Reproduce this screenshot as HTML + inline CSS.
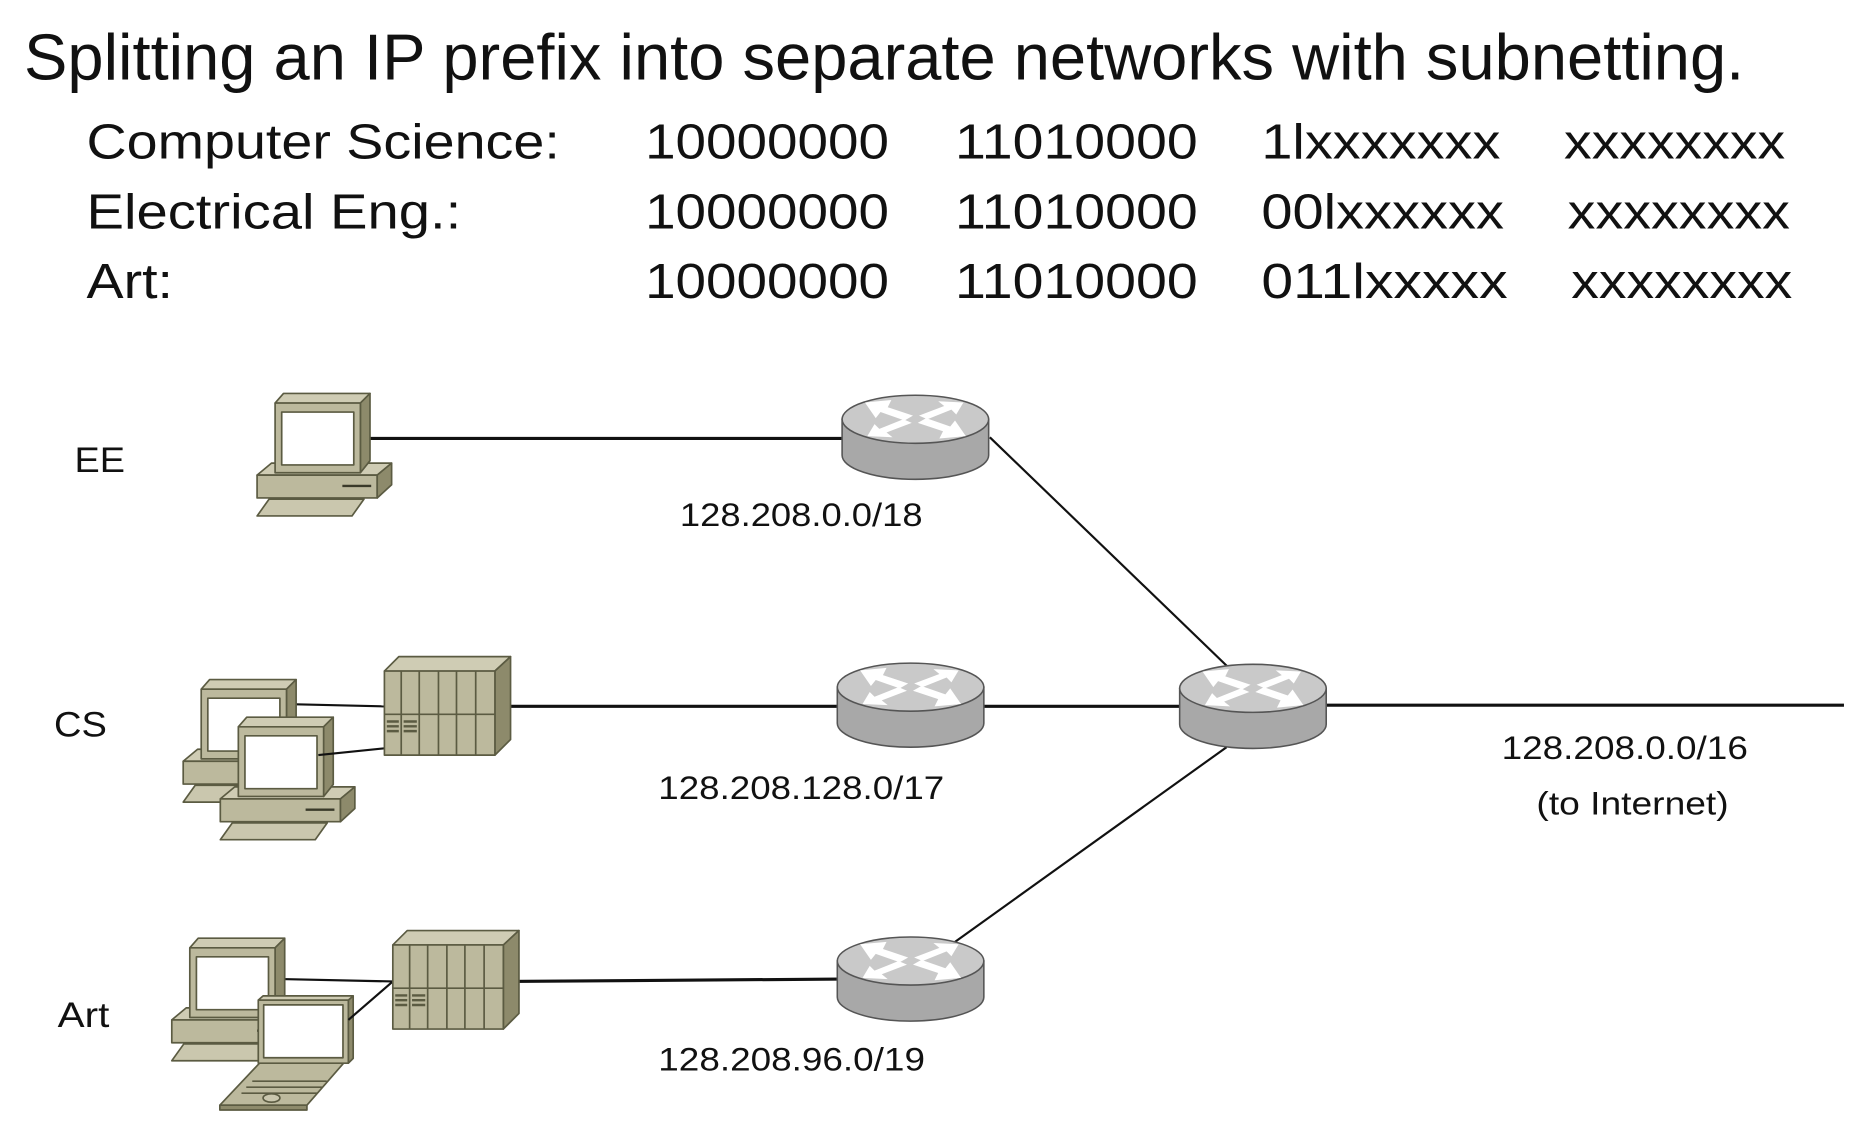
<!DOCTYPE html>
<html><head><meta charset="utf-8"><style>
html,body{margin:0;padding:0;background:#fff;}
svg{display:block;}
text{font-family:"Liberation Sans",Arial,sans-serif;fill:#111;}
</style></head><body>
<svg width="1874" height="1126" viewBox="0 0 1560 937.3" xmlns="http://www.w3.org/2000/svg">
<defs>
<symbol id="pc" overflow="visible">
 <g stroke="#5b5b42" stroke-width="1.4" stroke-linejoin="round">
  <polygon points="-15,60 -3,50 97,50 85,60" fill="#cfccb4"/>
  <rect x="-15" y="60" width="100" height="19" fill="#bcb99d"/>
  <polygon points="85,60 97,50 97,68 85,79" fill="#8d8a6b"/>
  <polygon points="-15,94 -5,80 74,80 64,94" fill="#cac7ae"/>
  <polygon points="0,0 7,-8 79,-8 71,0" fill="#cfccb4"/>
  <polygon points="71,0 79,-8 79,48 71,58" fill="#8d8a6b"/>
  <rect x="0" y="0" width="71" height="58" fill="#bcb99d"/>
  <rect x="5.5" y="7.5" width="60" height="44" fill="#fff"/>
 </g>
 <line x1="56" y1="69" x2="80" y2="69" stroke="#3a3a2a" stroke-width="2"/>
</symbol>
<symbol id="srv" overflow="visible">
 <g stroke="#5b5b42" stroke-width="1.4" stroke-linejoin="round">
  <polygon points="0,0 12,-12 105,-12 92,0" fill="#cfccb4"/>
  <polygon points="92,0 105,-12 105,57 92,70" fill="#8d8a6b"/>
  <rect x="0" y="0" width="92" height="70" fill="#bcb99d"/>
  <path d="M14,0V70M29,0V70M45,0V70M60,0V70M76,0V70M0,36H92" fill="none"/>
 </g>
 <path d="M2,42H12M2,46H12M2,50H12M16,42H27M16,46H27M16,50H27" stroke="#5b5b42" stroke-width="2"/>
</symbol>
<symbol id="rt" overflow="visible">
 <g stroke="#555" stroke-width="1.3">
  <path d="M-61,20 V50 A61,20 0 0 0 61,50 V20 Z" fill="#a8a8a8"/>
  <ellipse cx="0" cy="20" rx="61" ry="20" fill="#c9c9c9"/>
 </g>
 <g fill="#fff">
  <polygon points="-42,6 -20,4 -23,10 -2,17 -9,21 -29,14 -33,19"/>
  <polygon points="42,34 20,36 23,30 2,23 9,19 29,26 33,21"/>
  <polygon points="-40,34 -34,24 -30,28 -10,20 -3,23 -24,31 -19,35"/>
  <polygon points="40,6 34,16 30,12 10,20 3,17 24,9 19,5"/>
 </g>
</symbol>
</defs>

<text x="20" y="66" font-size="54" textLength="1432" lengthAdjust="spacingAndGlyphs">Splitting an IP prefix into separate networks with subnetting.</text>

<g font-size="41">
 <text x="72" y="132" textLength="394" lengthAdjust="spacingAndGlyphs">Computer Science:</text>
 <text x="72" y="190" textLength="312" lengthAdjust="spacingAndGlyphs">Electrical Eng.:</text>
 <text x="72" y="248" textLength="72" lengthAdjust="spacingAndGlyphs">Art:</text>
 <text x="537" y="132" textLength="203" lengthAdjust="spacingAndGlyphs">10000000</text>
 <text x="795" y="132" textLength="202" lengthAdjust="spacingAndGlyphs">11010000</text>
 <text x="1050" y="132" textLength="199" lengthAdjust="spacingAndGlyphs">1lxxxxxxx</text>
 <text x="1302" y="132" textLength="184" lengthAdjust="spacingAndGlyphs">xxxxxxxx</text>
 <text x="537" y="190" textLength="203" lengthAdjust="spacingAndGlyphs">10000000</text>
 <text x="795" y="190" textLength="202" lengthAdjust="spacingAndGlyphs">11010000</text>
 <text x="1050" y="190" textLength="202" lengthAdjust="spacingAndGlyphs">00lxxxxxx</text>
 <text x="1305" y="190" textLength="185" lengthAdjust="spacingAndGlyphs">xxxxxxxx</text>
 <text x="537" y="248" textLength="203" lengthAdjust="spacingAndGlyphs">10000000</text>
 <text x="795" y="248" textLength="202" lengthAdjust="spacingAndGlyphs">11010000</text>
 <text x="1050" y="248" textLength="205" lengthAdjust="spacingAndGlyphs">011lxxxxx</text>
 <text x="1308" y="248" textLength="184" lengthAdjust="spacingAndGlyphs">xxxxxxxx</text>
</g>

<g stroke="#111" stroke-width="2.6" fill="none">
 <line x1="295" y1="365" x2="702" y2="365"/>
 <line x1="410" y1="588" x2="700" y2="588"/>
 <line x1="818" y1="588" x2="984" y2="588"/>
 <line x1="1100" y1="587" x2="1535" y2="587"/>
 <line x1="420" y1="817" x2="700" y2="815"/>
</g>
<g stroke="#111" stroke-width="1.8" fill="none">
 <line x1="824" y1="364" x2="1022" y2="555"/>
 <line x1="1021" y1="622" x2="795" y2="784"/>
 <line x1="233" y1="586" x2="320.5" y2="588"/>
 <line x1="234.5" y1="815" x2="327" y2="817"/>
</g>

<use href="#pc" x="229" y="335.5"/>
<use href="#pc" x="167.5" y="573.7"/>
<use href="#pc" x="198.4" y="605"/>
<line x1="265" y1="628.5" x2="329" y2="622" stroke="#111" stroke-width="1.8"/>
<use href="#srv" x="320" y="558.6"/>

<use href="#pc" x="158" y="789"/>
<g stroke="#5b5b42" stroke-width="1.4" stroke-linejoin="round">
 <polygon points="183,920 216,885 286,885 255.5,920" fill="#bcb99d"/>
 <polygon points="183,920 255.5,920 255.5,924 183,924" fill="#8d8a6b"/>
 <path d="M205,905 H268 M210,900 H272 M201,910 H264" fill="none"/>
 <ellipse cx="226" cy="914" rx="7" ry="3.5" fill="#cac7ae"/>
 <rect x="215" y="832.5" width="75" height="52.5" fill="#bcb99d"/>
 <polygon points="290,832.5 294,829 294,881 290,885" fill="#8d8a6b"/>
 <polygon points="215,832.5 219,829 294,829 290,832.5" fill="#cfccb4"/>
 <rect x="219.5" y="836.5" width="66" height="44" fill="#fff"/>
</g>
<line x1="290" y1="849" x2="327" y2="817" stroke="#111" stroke-width="1.8"/>
<use href="#srv" x="327" y="786.6"/>

<use href="#rt" x="762" y="329"/>
<use href="#rt" x="758" y="552"/>
<use href="#rt" x="1043" y="553"/>
<use href="#rt" x="758" y="780"/>

<g font-size="29">
 <text x="62" y="393" textLength="42" lengthAdjust="spacingAndGlyphs">EE</text>
 <text x="45" y="613" textLength="44" lengthAdjust="spacingAndGlyphs">CS</text>
 <text x="48" y="855" textLength="43" lengthAdjust="spacingAndGlyphs">Art</text>
</g>
<g font-size="27">
 <text x="566" y="438" textLength="202" lengthAdjust="spacingAndGlyphs">128.208.0.0/18</text>
 <text x="548" y="665" textLength="238" lengthAdjust="spacingAndGlyphs">128.208.128.0/17</text>
 <text x="548" y="891" textLength="222" lengthAdjust="spacingAndGlyphs">128.208.96.0/19</text>
 <text x="1250" y="632" textLength="205" lengthAdjust="spacingAndGlyphs">128.208.0.0/16</text>
 <text x="1279" y="678" textLength="160" lengthAdjust="spacingAndGlyphs">(to Internet)</text>
</g>
</svg>
</body></html>
